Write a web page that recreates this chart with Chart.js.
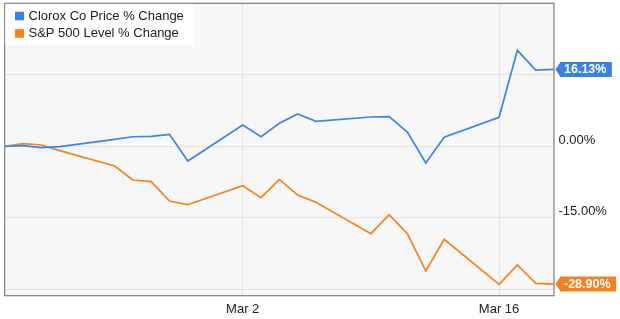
<!DOCTYPE html>
<html>
<head>
<meta charset="utf-8">
<script src="https://cdn.jsdelivr.net/npm/chart.js@4.4.1/dist/chart.umd.min.js"></script>
<style>
  html, body { margin: 0; padding: 0; background: #fff; }
  #wrap { width: 620px; height: 319px; }
</style>
</head>
<body>
<div id="wrap"><canvas id="chart" width="620" height="319"></canvas></div>
<script>
// trading days, Feb 18 – Mar 19 2020
const dates = [
  '2020-02-18', '2020-02-19', '2020-02-20', '2020-02-21',
  '2020-02-24', '2020-02-25', '2020-02-26', '2020-02-27', '2020-02-28',
  '2020-03-02', '2020-03-03', '2020-03-04', '2020-03-05', '2020-03-06',
  '2020-03-09', '2020-03-10', '2020-03-11', '2020-03-12', '2020-03-13',
  '2020-03-16', '2020-03-17', '2020-03-18', '2020-03-19'
];
const cloroxPct = [
  0, 0.13, -0.29, -0.08,
  1.47, 2.01, 2.10, 2.52, -3.08,
  4.47, 2.01, 4.82, 6.78, 5.24,
  6.15, 6.21, 2.94, -3.50, 1.89,
  6.08, 20.14, 16.0, 16.13
];
const spxPct = [
  0, 0.55, 0.27, -0.9,
  -4.13, -7.07, -7.42, -11.47, -12.25,
  -8.27, -10.78, -6.92, -10.22, -11.75,
  -18.33, -14.35, -18.4, -26.16, -19.51,
  -28.95, -24.9, -28.74, -28.90
];
const seriesNames = ['Clorox Co Price % Change', 'S&P 500 Level % Change'];
const lineColors = ['#3a86e8', '#f7821b'];
const badgeColors = ['#3b80e4', '#f5801f'];

const xTickDates = ['2020-03-02', '2020-03-16'];
const xTickLabels = ['Mar 2', 'Mar 16'];
const yGridValues = [-30, -15, 0, 15, 30];
const yLabelValues = [0, -15];

const dayMs = 86400000;
function dayOffset(d) {
  return (Date.parse(d) - Date.parse(dates[0])) / dayMs;
}

function toPoints(values) {
  return dates.map((d, i) => ({ x: dayOffset(d), y: values[i] }));
}

const FONT = '"Liberation Sans", Arial, sans-serif';

// plot background + frame
const framePlugin = {
  id: 'frame',
  beforeDraw(chart) {
    const { ctx, chartArea: a } = chart;
    ctx.save();
    ctx.fillStyle = '#f7f7f7';
    ctx.fillRect(a.left, a.top, a.right - a.left, a.bottom - a.top);
    ctx.restore();
  },
  afterDatasetsDraw(chart) {
    const { ctx, chartArea: a } = chart;
    ctx.save();
    ctx.strokeStyle = '#7d7d7d';
    ctx.lineWidth = 1.2;
    ctx.strokeRect(a.left, a.top, a.right - a.left, a.bottom - a.top);
    ctx.restore();
  }
};

// legend box in the top left corner
const legendPlugin = {
  id: 'boxLegend',
  afterDraw(chart) {
    const { ctx, chartArea: a } = chart;
    ctx.save();
    ctx.fillStyle = '#ffffff';
    ctx.fillRect(a.left + 0.6, a.top + 0.6, 188, 41);
    ctx.font = '13px ' + FONT;
    ctx.textBaseline = 'middle';
    chart.data.datasets.forEach((ds, i) => {
      const y = 16 + i * 17.5;
      ctx.fillStyle = ds.borderColor;
      ctx.fillRect(15, y - 4.3, 9, 8.6);
      ctx.fillStyle = '#222';
      ctx.fillText(ds.label, 28.5, y);
    });
    ctx.restore();
  }
};

// last value badges on the right axis
const badgePlugin = {
  id: 'badges',
  afterDraw(chart) {
    const { ctx, chartArea: a } = chart;
    ctx.save();
    ctx.font = 'bold 12.5px ' + FONT;
    ctx.textBaseline = 'middle';
    chart.data.datasets.forEach((ds, i) => {
      const meta = chart.getDatasetMeta(i);
      const last = meta.data[meta.data.length - 1];
      const val = ds.data[ds.data.length - 1].y;
      const text = val.toFixed(2) + '%';
      const tip = a.right + 1.5;
      const y = last.y;
      const h = 15;
      const w = ctx.measureText(text).width + 9;
      const bx = tip + 5;
      ctx.fillStyle = badgeColors[i];
      ctx.beginPath();
      ctx.moveTo(tip, y);
      ctx.lineTo(bx, y - h / 2);
      ctx.lineTo(bx + w, y - h / 2);
      ctx.lineTo(bx + w, y + h / 2);
      ctx.lineTo(bx, y + h / 2);
      ctx.closePath();
      ctx.fill();
      ctx.fillStyle = '#fff';
      ctx.fillText(text, bx + 3.5, y + 0.5);
    });
    ctx.restore();
  }
};

new Chart(document.getElementById('chart'), {
  type: 'line',
  data: {
    datasets: [
      {
        label: seriesNames[0],
        data: toPoints(cloroxPct),
        borderColor: lineColors[0],
        backgroundColor: lineColors[0]
      },
      {
        label: seriesNames[1],
        data: toPoints(spxPct),
        borderColor: lineColors[1],
        backgroundColor: lineColors[1]
      }
    ]
  },
  options: {
    responsive: false,
    animation: false,
    events: [],
    layout: { padding: { left: 4.7, top: 3.3, right: 0, bottom: 0 } },
    elements: {
      line: { borderWidth: 1.7, tension: 0 },
      point: { radius: 0 }
    },
    plugins: {
      legend: { display: false },
      tooltip: { enabled: false }
    },
    scales: {
      x: {
        type: 'linear',
        min: 0,
        max: dayOffset(dates[dates.length - 1]),
        afterBuildTicks(scale) {
          scale.ticks = xTickDates.map(d => ({ value: dayOffset(d) }));
        },
        afterFit(scale) {
          scale.height = 23.3;
          scale.paddingLeft = 0;
          scale.paddingRight = 0;
        },
        grid: { color: '#e4e4e4', lineWidth: 1, drawTicks: false },
        border: { display: false },
        ticks: {
          padding: 6,
          color: '#222',
          font: { family: FONT, size: 13 },
          maxRotation: 0,
          callback(value) {
            const i = xTickDates.findIndex(d => dayOffset(d) === value);
            return i >= 0 ? xTickLabels[i] : '';
          }
        }
      },
      y: {
        position: 'right',
        min: -31.34,
        max: 30,
        afterBuildTicks(scale) {
          scale.ticks = yGridValues.map(v => ({ value: v }));
        },
        afterFit(scale) {
          scale.width = 66;
          scale.paddingTop = 0;
          scale.paddingBottom = 0;
        },
        grid: { color: '#e4e4e4', lineWidth: 1, drawTicks: false },
        border: { display: false },
        ticks: {
          padding: 4.5,
          labelOffset: -6,
          color: '#222',
          font: { family: FONT, size: 13 },
          callback(value) {
            return yLabelValues.includes(value) ? value.toFixed(2) + '%' : '';
          }
        }
      }
    }
  },
  plugins: [framePlugin, legendPlugin, badgePlugin]
});
</script>
</body>
</html>
